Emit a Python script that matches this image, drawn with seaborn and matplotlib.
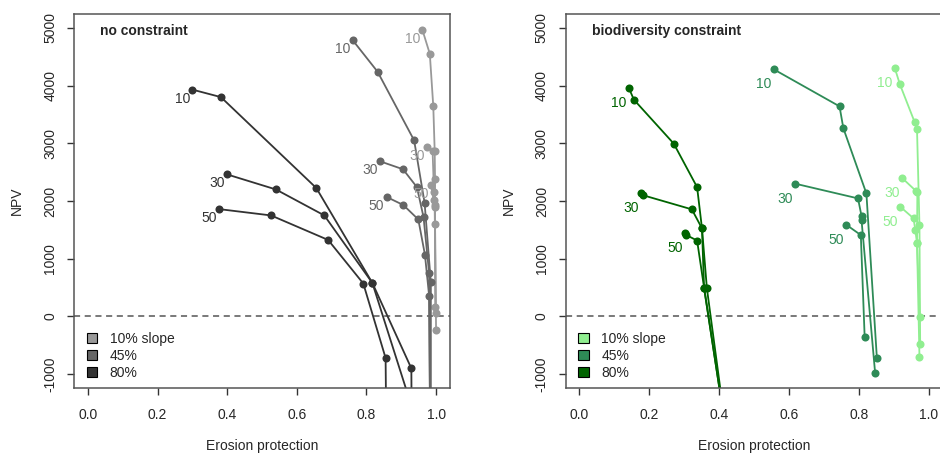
import pandas as pd
import matplotlib
matplotlib.use('Agg')
import matplotlib.pyplot as plt
import seaborn as sns
from matplotlib.patches import Patch

# ---- no constraint panel ----
nc_s10_r10_x = [0.961, 0.982, 0.992, 0.996, 0.997, 0.997, 1.000]
nc_s10_r10_y = [4960, 4550, 3640, 2870, 2380, 1600, -240]
nc_s10_r30_x = [0.975, 0.990, 0.994, 0.997, 0.998]
nc_s10_r30_y = [2930, 2860, 2160, 1930, 155]
nc_s10_r50_x = [0.986, 0.993, 0.996, 0.999]
nc_s10_r50_y = [2270, 2010, 1900, 60]

nc_s45_r10_x = [0.760, 0.832, 0.937, 0.967, 0.985, 0.985]
nc_s45_r10_y = [4790, 4240, 3050, 1970, 590, -2000]
nc_s45_r30_x = [0.838, 0.905, 0.945, 0.964, 0.980, 0.983]
nc_s45_r30_y = [2690, 2550, 2240, 1720, 750, -2000]
nc_s45_r50_x = [0.858, 0.906, 0.949, 0.968, 0.980, 0.983]
nc_s45_r50_y = [2070, 1930, 1680, 1070, 360, -2000]

nc_s80_r10_x = [0.300, 0.382, 0.656, 0.817, 0.929, 0.930]
nc_s80_r10_y = [3930, 3800, 2225, 580, -900, -2000]
nc_s80_r30_x = [0.400, 0.540, 0.679, 0.817, 0.953]
nc_s80_r30_y = [2460, 2200, 1750, 580, -2000]
nc_s80_r50_x = [0.376, 0.526, 0.690, 0.791, 0.855, 0.857]
nc_s80_r50_y = [1860, 1750, 1325, 570, -720, -2000]

# ---- biodiversity constraint panel ----
bc_s10_r10_x = [0.903, 0.918, 0.960, 0.967, 0.974, 0.976]
bc_s10_r10_y = [4310, 4020, 3370, 3240, 1580, -480]
bc_s10_r30_x = [0.924, 0.963, 0.968, 0.967, 0.975]
bc_s10_r30_y = [2400, 2180, 2160, 1270, -10]
bc_s10_r50_x = [0.919, 0.957, 0.962, 0.967, 0.974]
bc_s10_r50_y = [1900, 1700, 1500, 1270, -700]

bc_s45_r10_x = [0.557, 0.745, 0.756, 0.822, 0.852]
bc_s45_r10_y = [4280, 3640, 3260, 2130, -720]
bc_s45_r30_x = [0.618, 0.798, 0.808, 0.808, 0.847]
bc_s45_r30_y = [2300, 2045, 1740, 1670, -980]
bc_s45_r50_x = [0.764, 0.806, 0.817]
bc_s45_r50_y = [1590, 1410, -355]

bc_s80_r10_x = [0.142, 0.156, 0.270, 0.337, 0.351, 0.357, 0.420]
bc_s80_r10_y = [3950, 3755, 2995, 2240, 1525, 490, -2000]
bc_s80_r30_x = [0.177, 0.182, 0.322, 0.351, 0.365, 0.420]
bc_s80_r30_y = [2140, 2100, 1855, 1525, 490, -2000]
bc_s80_r50_x = [0.302, 0.306, 0.337, 0.357, 0.420]
bc_s80_r50_y = [1445, 1410, 1315, 500, -2000]

slopes = ['10% slope', '45%', '80%']
rates = ['10', '30', '50']
grey_cols = ['#999999', '#666666', '#333333']
green_cols = ['#90EE90', '#2E8B57', '#006400']

nc_lines = [
    [(nc_s10_r10_x, nc_s10_r10_y), (nc_s10_r30_x, nc_s10_r30_y), (nc_s10_r50_x, nc_s10_r50_y)],
    [(nc_s45_r10_x, nc_s45_r10_y), (nc_s45_r30_x, nc_s45_r30_y), (nc_s45_r50_x, nc_s45_r50_y)],
    [(nc_s80_r10_x, nc_s80_r10_y), (nc_s80_r30_x, nc_s80_r30_y), (nc_s80_r50_x, nc_s80_r50_y)],
]
bc_lines = [
    [(bc_s10_r10_x, bc_s10_r10_y), (bc_s10_r30_x, bc_s10_r30_y), (bc_s10_r50_x, bc_s10_r50_y)],
    [(bc_s45_r10_x, bc_s45_r10_y), (bc_s45_r30_x, bc_s45_r30_y), (bc_s45_r50_x, bc_s45_r50_y)],
    [(bc_s80_r10_x, bc_s80_r10_y), (bc_s80_r30_x, bc_s80_r30_y), (bc_s80_r50_x, bc_s80_r50_y)],
]


def to_frame(lines):
    rows = []
    for s, slope in enumerate(slopes):
        for r, rate in enumerate(rates):
            xs, ys = lines[s][r]
            for x, y in zip(xs, ys):
                rows.append({'slope': slope, 'rate': rate, 'x': x, 'y': y})
    return pd.DataFrame(rows)


sns.set_style('white')
plt.rcParams['font.family'] = ['Liberation Sans', 'DejaVu Sans']
plt.rcParams['font.size'] = 10

fig = plt.figure(figsize=(9.4, 4.54), dpi=100)
ax1 = fig.add_axes([74 / 940, 66 / 454, 376 / 940, 374 / 454])
ax2 = fig.add_axes([565.5 / 940, 66 / 454, 377 / 940, 374 / 454])

panels = [
    (ax1, nc_lines, grey_cols, 'no constraint', (-7.2, -6.5)),
    (ax2, bc_lines, green_cols, 'biodiversity constraint', (-7.2, -10.8)),
]

for ax, lines, cols, title, off in panels:
    df = to_frame(lines)
    pal = dict(zip(slopes, cols))
    sns.lineplot(data=df, x='x', y='y', hue='slope', units='rate', estimator=None,
                 sort=False, palette=pal, marker='o', markersize=5.8,
                 markeredgewidth=0, linewidth=1.3, legend=False, ax=ax)
    ax.axhline(0, color='#555555', lw=1.1, ls=(0, (4, 3)), zorder=0)

    # rate labels next to the first point of each line
    for s in range(3):
        for r in range(3):
            xs, ys = lines[s][r]
            ax.annotate(rates[r], (xs[0], ys[0]), xytext=off, textcoords='offset points',
                        ha='center', va='center', color=cols[s], fontsize=10)

    ax.text(0.035, 4950, title, fontweight='bold', ha='left', va='center', fontsize=10)

    ax.set_xlim(-0.04, 1.04)
    ax.set_ylim(-1240, 5240)
    ax.set_xticks([0.0, 0.2, 0.4, 0.6, 0.8, 1.0])
    ax.set_xticklabels(['0.0', '0.2', '0.4', '0.6', '0.8', '1.0'])
    ax.set_yticks([-1000, 0, 1000, 2000, 3000, 4000, 5000])
    ax.set_yticklabels(['-1000', '0', '1000', '2000', '3000', '4000', '5000'],
                       rotation=90, va='center')
    ax.tick_params(axis='both', direction='out', length=5, width=1, color='#333333',
                   pad=7, labelsize=10, bottom=True, left=True)
    ax.tick_params(axis='x', pad=9.5)
    ax.set_xlabel('Erosion protection', fontsize=10, labelpad=12)
    ax.set_ylabel('NPV', fontsize=10, labelpad=14)
    for sp in ax.spines.values():
        sp.set_color('#555555')
        sp.set_linewidth(1.1)

    handles = [Patch(facecolor=c, edgecolor='black', linewidth=0.8, label=l)
               for c, l in zip(cols, slopes)]
    ax.legend(handles=handles, loc='lower left', bbox_to_anchor=(0.012, 0.0),
              frameon=False, fontsize=10, handlelength=0.75, handleheight=0.75,
              labelspacing=0.2, handletextpad=0.9, borderaxespad=0.3, borderpad=0.3)

fig.savefig('out.png', dpi=100)
